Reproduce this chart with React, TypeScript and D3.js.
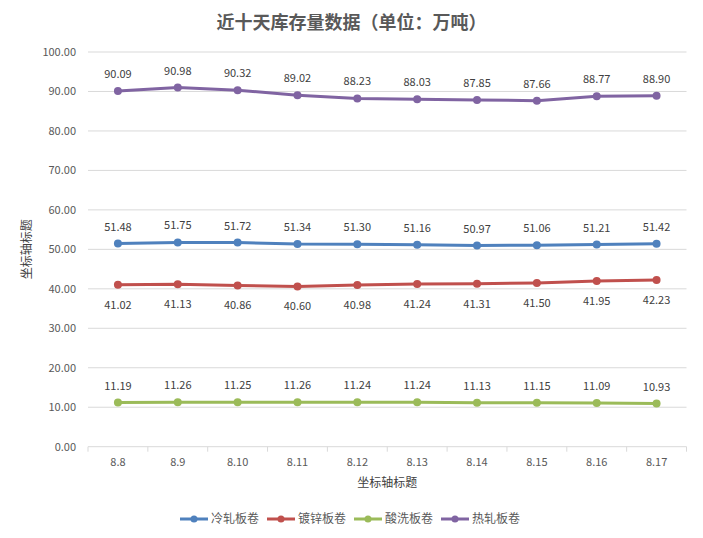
import React from 'react';
import * as d3 from 'd3';

const dates = ['8.8', '8.9', '8.10', '8.11', '8.12', '8.13', '8.14', '8.15', '8.16', '8.17'];
const coldRolled = [51.48, 51.75, 51.72, 51.34, 51.3, 51.16, 50.97, 51.06, 51.21, 51.42];
const galvanized = [41.02, 41.13, 40.86, 40.6, 40.98, 41.24, 41.31, 41.5, 41.95, 42.23];
const pickled = [11.19, 11.26, 11.25, 11.26, 11.24, 11.24, 11.13, 11.15, 11.09, 10.93];
const hotRolled = [90.09, 90.98, 90.32, 89.02, 88.23, 88.03, 87.85, 87.66, 88.77, 88.9];
const yTicks = [0, 10, 20, 30, 40, 50, 60, 70, 80, 90, 100];

const series = [
  { name: '冷轧板卷', values: coldRolled, color: '#4f81bd', below: false },
  { name: '镀锌板卷', values: galvanized, color: '#c0504d', below: true },
  { name: '酸洗板卷', values: pickled, color: '#9bbb59', below: false },
  { name: '热轧板卷', values: hotRolled, color: '#8064a2', below: false },
];

const W = 703;
const H = 538;
const margin = { top: 52, right: 16, bottom: 91, left: 88 };
const font = '"Microsoft YaHei", "Noto Sans CJK SC", "Noto Sans", sans-serif';

export default function App() {
  const x = d3
    .scaleBand<string>()
    .domain(dates)
    .range([margin.left, W - margin.right - 0.5]);
  const y = d3
    .scaleLinear()
    .domain([0, 100])
    .range([H - margin.bottom - 0.3, margin.top]);

  const cx = (d: string) => (x(d) as number) + x.bandwidth() / 2;
  const line = d3
    .line<number>()
    .x((_, i) => cx(dates[i]))
    .y((v) => y(v));

  const axisY = y(0);
  const tickXs = dates.map((d) => x(d) as number).concat([x.range()[1]]);

  return (
    <svg width={W} height={H} style={{ position: 'absolute', left: 0, top: 0, background: '#fff' }}>
      <text x={W / 2} y={29} textAnchor="middle" fontFamily={font} fontSize={18} fontWeight="bold" fill="#595959">
        近十天库存量数据（单位：万吨）
      </text>

      {yTicks.map((t) => (
        <g key={t}>
          {t > 0 && (
            <line x1={margin.left} x2={x.range()[1]} y1={y(t)} y2={y(t)} stroke="#d9d9d9" strokeWidth={1} />
          )}
          <text x={margin.left - 12} y={y(t) + 4} textAnchor="end" fontFamily={font} fontSize={11} fill="#595959">
            {t.toFixed(2)}
          </text>
        </g>
      ))}

      <line x1={margin.left} x2={x.range()[1]} y1={axisY} y2={axisY} stroke="#d9d9d9" />
      {tickXs.map((tx, i) => (
        <line key={i} x1={tx} x2={tx} y1={axisY} y2={axisY + 5} stroke="#d9d9d9" />
      ))}
      {dates.map((d) => (
        <text key={d} x={cx(d)} y={axisY + 19} textAnchor="middle" fontFamily={font} fontSize={11} fill="#595959">
          {d}
        </text>
      ))}

      <text x={(margin.left + x.range()[1]) / 2} y={487} textAnchor="middle" fontFamily={font} fontSize={12} fill="#404040">
        坐标轴标题
      </text>
      <text
        transform={`translate(31,${(margin.top + axisY) / 2}) rotate(-90)`}
        textAnchor="middle"
        fontFamily={font}
        fontSize={12}
        fill="#404040"
      >
        坐标轴标题
      </text>

      {series.map((s) => (
        <g key={s.name}>
          <path d={line(s.values) as string} fill="none" stroke={s.color} strokeWidth={3} strokeLinejoin="round" />
          {s.values.map((v, i) => (
            <circle key={i} cx={cx(dates[i])} cy={y(v)} r={4} fill={s.color} />
          ))}
          {s.values.map((v, i) => (
            <text
              key={'l' + i}
              x={cx(dates[i])}
              y={s.below ? y(v) + 24 : y(v) - 13}
              textAnchor="middle"
              fontFamily={font}
              fontSize={11}
              fill="#404040"
            >
              {v.toFixed(2)}
            </text>
          ))}
        </g>
      ))}

      {series.map((s, i) => {
        const lx = 180 + i * 87;
        const ly = 519;
        return (
          <g key={s.name}>
            <line x1={lx} x2={lx + 28} y1={ly} y2={ly} stroke={s.color} strokeWidth={3} />
            <circle cx={lx + 14} cy={ly} r={3.5} fill={s.color} />
            <text x={lx + 31} y={ly + 4} fontFamily={font} fontSize={12} fill="#595959">
              {s.name}
            </text>
          </g>
        );
      })}
    </svg>
  );
}
